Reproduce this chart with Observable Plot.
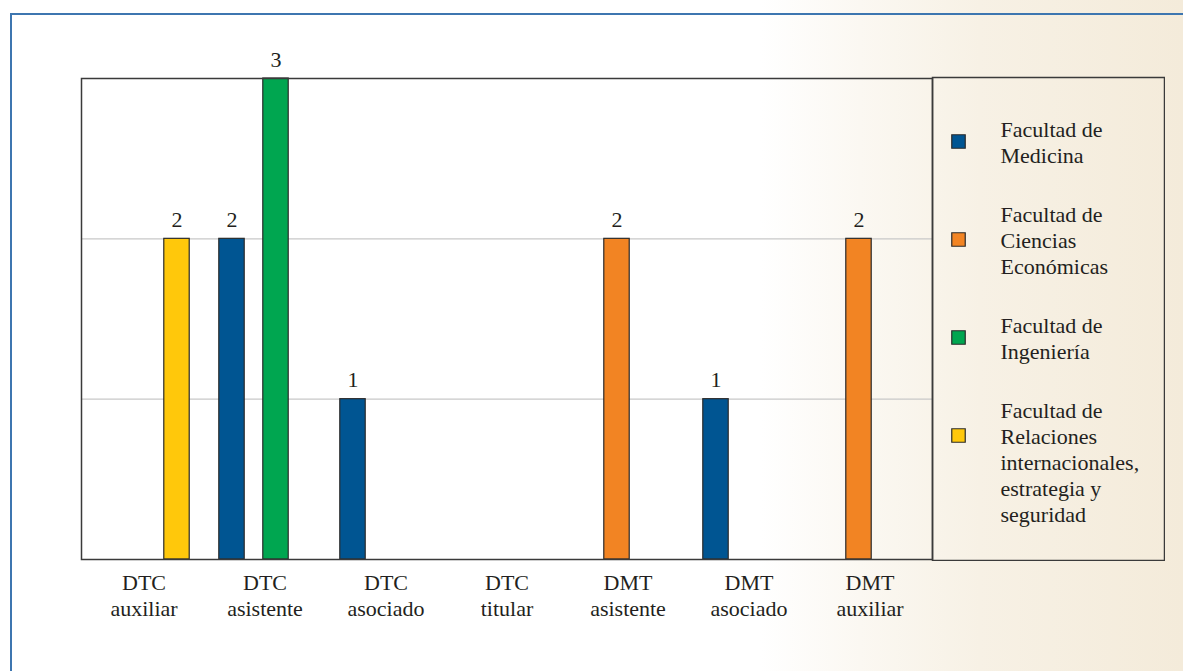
<!DOCTYPE html>
<html>
<head>
<meta charset="utf-8">
<script src="https://cdn.jsdelivr.net/npm/d3@7"></script>
<script src="https://cdn.jsdelivr.net/npm/@observablehq/plot@0.6"></script>
<style>
  html, body { margin: 0; padding: 0; }
  #page {
    position: relative; width: 1183px; height: 671px; overflow: hidden;
    background: linear-gradient(90deg, #ffffff 0px, #ffffff 760px, #fbf8f2 860px, #f7f1e5 980px, #f4ebda 1183px);
  }
  #border {
    position: absolute; left: 10px; top: 13px; width: 1300px; height: 800px;
    border: 2px solid #3d76b0;
  }
  #main { position: absolute; left: 0; top: 0; }
  #legend { position: absolute; left: 931px; top: 76px; }
</style>
</head>
<body>
<div id="page">
  <div id="border"></div>
  <div id="main"></div>
  <div id="legend"></div>
</div>
<script>
const categories = ["DTC\nauxiliar", "DTC\nasistente", "DTC\nasociado", "DTC\ntitular", "DMT\nasistente", "DMT\nasociado", "DMT\nauxiliar"];
const series = ["Facultad de\nMedicina", "Facultad de\nCiencias\nEconómicas", "Facultad de\nIngeniería", "Facultad de\nRelaciones\ninternacionales,\nestrategia y\nseguridad"];
const colors = ["#005592", "#f28423", "#00a650", "#ffc80b"];
const medicina   = [null, 2, 1, null, null, 1, null];
const economicas = [null, null, null, null, 2, null, 2];
const ingenieria = [null, 3, null, null, null, null, null];
const relaciones = [2, null, null, null, null, null, null];
const yDomain = [0, 3];
const gridValues = [1, 2];

const seriesValues = [medicina, economicas, ingenieria, relaciones];
const rows = [];
series.forEach((s, i) => seriesValues[i].forEach((v, j) => {
  if (v != null) rows.push({category: categories[j], series: s, value: v});
}));

const font = "Liberation Serif";
const fs = 22;
const textColor = "#231f20";
const W = 940, H = 640, mL = 81, mR = 8, mT = 78, mB = 81;
const bandW = (W - mL - mR) / categories.length;
const barW = 26, slotStep = 22;

const marks = [Plot.ruleY(gridValues, {stroke: "#c8c8c8", strokeWidth: 1.3})];
series.forEach((s, i) => {
  const d = rows.filter(r => r.series === s);
  const off = (i - 1.5) * slotStep;
  const side = (bandW - barW) / 2;
  marks.push(Plot.barY(d, {x: "category", y: "value", fill: colors[i], stroke: "#2b2b2b", strokeWidth: 1.2,
    insetLeft: side + off, insetRight: side - off}));
  marks.push(Plot.text(d, {x: "category", y: "value", text: d => String(d.value), dx: off, dy: -19,
    fontSize: fs, fontFamily: font, fill: textColor}));
});
marks.push(Plot.text(categories, {x: d => d, frameAnchor: "bottom", lineAnchor: "top", dy: 12,
  lineHeight: 1.18, fontSize: fs, fontFamily: font, fill: textColor}));
marks.push(Plot.frame({stroke: "#3a3a3a", strokeWidth: 1.5}));

const chart = Plot.plot({
  width: W, height: H,
  marginLeft: mL, marginRight: mR, marginTop: mT, marginBottom: mB,
  x: {domain: categories, padding: 0, axis: null},
  y: {domain: yDomain, axis: null},
  style: {background: "transparent", fontSize: fs + "px", color: textColor},
  marks
});
document.getElementById("main").appendChild(chart);

const legend = Plot.plot({
  width: 234, height: 485,
  margin: 1,
  y: {type: "point", domain: series, range: [65, 359], padding: 0, axis: null},
  style: {background: "transparent", fontSize: fs + "px", color: textColor},
  marks: [
    Plot.dot(series, {y: d => d, frameAnchor: "left", dx: 26, symbol: "square", r: 7.6,
      fill: (d, i) => colors[i], stroke: "#2b2b2b", strokeWidth: 1.2}),
    Plot.text(series.slice(0, 3), {y: d => d, frameAnchor: "left", dx: 68, textAnchor: "start",
      lineAnchor: "middle", lineHeight: 1.18, fontSize: fs, fontFamily: font, fill: textColor}),
    Plot.text(series.slice(3), {y: d => d, frameAnchor: "left", dx: 68, textAnchor: "start",
      lineAnchor: "middle", lineHeight: 1.18, fontSize: fs, fontFamily: font, fill: textColor, dy: 26}),
    Plot.frame({stroke: "#3a3a3a", strokeWidth: 1.5})
  ]
});
document.getElementById("legend").appendChild(legend);
</script>
</body>
</html>
